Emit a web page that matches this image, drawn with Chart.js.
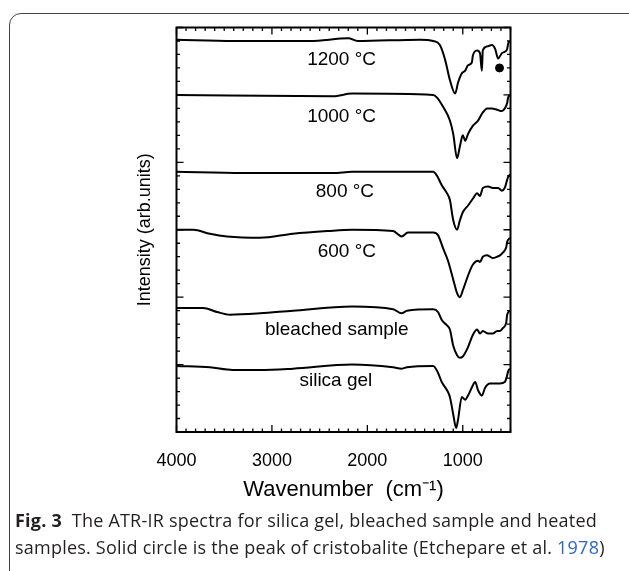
<!DOCTYPE html>
<html>
<head>
<meta charset="utf-8">
<script src="https://cdn.jsdelivr.net/npm/chart.js@4.4.1/dist/chart.umd.min.js"></script>
<style>
  html, body { margin: 0; padding: 0; background: #fff; }
  body { width: 629px; height: 571px; position: relative; overflow: hidden; }
  .frame { position: absolute; left: 9px; top: 13px; width: 700px; height: 700px; border: 1px solid #444; border-radius: 12px; }
  canvas { position: absolute; left: 0; top: 0; }
  .caption { position: absolute; left: 15px; top: 507px; font-family: "Open Sans", sans-serif; font-size: 18px; line-height: 27px; color: #231f20; white-space: nowrap; letter-spacing: 0.22px; }
  .caption b { font-weight: 700; }
  .caption span.ref { color: #2b66c9; }
</style>
</head>
<body>
<div class="frame"></div>
<canvas id="chart" width="629" height="571"></canvas>
<div class="caption"><b>Fig. 3</b>&nbsp; The ATR-IR spectra for silica gel, bleached sample and heated<br>samples. Solid circle is the peak of cristobalite (Etchepare et al. <span class="ref">1978</span>)</div>
<script>
// wavenumber (cm-1) / intensity (arb. units)
const wn1200 = [4000, 3400, 2600, 2200, 2100, 1450, 1310, 1240, 1185, 1135, 1080, 1050, 1010, 975, 945, 905, 895, 850, 820, 800, 790, 745, 695, 660, 630, 590, 560, 535, 525, 505];
const int1200 = [29.1, 29.0, 29.0, 29.2, 29.0, 29.1, 29.0, 28.7, 27.6, 26.1, 25.1, 25.9, 26.6, 26.8, 27.2, 27.4, 27.9, 28.3, 28.1, 26.8, 28.3, 28.6, 28.7, 28.4, 27.7, 28.1, 28.2, 28.4, 28.8, 29.0];

const wn1000 = [4000, 2360, 2160, 1310, 1270, 1205, 1135, 1100, 1060, 1030, 1000, 975, 945, 895, 840, 790, 745, 695, 640, 590, 560, 535, 525, 505];
const int1000 = [25.0, 24.9, 25.1, 25.0, 24.8, 24.1, 23.1, 22.1, 20.3, 21.2, 22.0, 21.6, 22.1, 22.7, 23.1, 23.7, 24.0, 24.0, 23.9, 23.8, 24.0, 24.4, 24.8, 25.0];

const wn800 = [4000, 3300, 2360, 2160, 1310, 1270, 1220, 1165, 1135, 1100, 1060, 1030, 1000, 945, 895, 850, 820, 790, 735, 685, 630, 590, 560, 535, 525, 505];
const int800 = [19.3, 19.2, 19.2, 19.3, 19.3, 19.0, 18.3, 17.7, 17.2, 15.7, 15.0, 15.7, 16.3, 16.8, 17.3, 17.7, 17.5, 18.1, 18.2, 18.1, 18.1, 17.9, 18.1, 18.7, 18.9, 19.1];

const wn600 = [4000, 3825, 3650, 3470, 3125, 2780, 2420, 2160, 1730, 1640, 1575, 1310, 1260, 1205, 1155, 1100, 1060, 1030, 1000, 945, 895, 840, 820, 790, 745, 715, 685, 640, 610, 580, 545, 535, 505];
const int600 = [15.0, 15.0, 14.7, 14.5, 14.4, 14.7, 14.9, 15.0, 14.9, 14.5, 14.8, 14.8, 14.6, 13.6, 12.7, 11.3, 10.3, 10.0, 10.5, 11.6, 12.4, 12.7, 12.6, 13.0, 13.1, 13.0, 12.9, 13.0, 13.1, 13.3, 13.7, 14.1, 14.4];

const wnBleached = [4000, 3720, 3575, 3440, 3125, 2780, 2160, 1730, 1640, 1585, 1310, 1260, 1220, 1165, 1135, 1100, 1060, 1030, 1000, 945, 895, 850, 820, 790, 735, 685, 640, 610, 580, 545, 535, 505];
const intBleached = [9.2, 9.2, 8.9, 8.7, 8.8, 9.0, 9.3, 9.1, 8.8, 9.0, 9.1, 8.9, 8.3, 7.9, 7.6, 6.4, 5.7, 5.5, 5.6, 6.3, 7.2, 7.6, 7.3, 7.5, 7.3, 7.3, 7.5, 7.5, 7.7, 8.1, 8.7, 9.0];

const wnSilica = [4000, 3650, 3410, 3125, 2780, 2160, 1730, 1640, 1585, 1310, 1260, 1220, 1165, 1135, 1100, 1070, 1050, 1010, 975, 945, 905, 870, 840, 800, 765, 715, 610, 560, 535, 525, 505];
const intSilica = [4.9, 4.8, 4.6, 4.6, 4.7, 5.0, 4.8, 4.7, 4.8, 4.9, 4.4, 3.7, 3.1, 2.6, 1.3, 0.3, 0.9, 2.6, 2.4, 2.7, 3.3, 3.7, 3.1, 2.7, 3.3, 3.6, 3.6, 3.7, 4.2, 4.5, 4.7];

// cristobalite peak marker
const cristobaliteWn = [615];
const cristobaliteInt = [27.0];

const curveNames = ['1200 °C', '1000 °C', '800 °C', '600 °C', 'bleached sample', 'silica gel'];
// where each curve name sits (wavenumber, intensity of text baseline)
const nameWn = [2270, 2270, 2235, 2215, 2320, 2330];
const nameInt = [27.2, 23.0, 17.4, 13.0, 7.2, 3.4];

const xTickValues = [4000, 3000, 2000, 1000];

const pairs = (xs, ys) => xs.map((v, i) => ({ x: v, y: ys[i] }));

const spectra = [
  [wn1200, int1200],
  [wn1000, int1000],
  [wn800, int800],
  [wn600, int600],
  [wnBleached, intBleached],
  [wnSilica, intSilica]
];

const datasets = spectra.map(([xs, ys], i) => ({
  label: curveNames[i],
  data: pairs(xs, ys),
  borderColor: '#000',
  borderWidth: 2,
  pointRadius: 0,
  fill: false,
  cubicInterpolationMode: 'monotone'
}));

datasets.push({
  label: 'cristobalite',
  type: 'scatter',
  data: pairs(cristobaliteWn, cristobaliteInt),
  backgroundColor: '#000',
  borderColor: '#000',
  pointRadius: 4
});

// inward ticks on all four sides, box frame and curve names
const frameTicks = {
  id: 'frameTicks',
  afterDatasetsDraw(chart) {
    const { ctx, chartArea: a, scales: { x, y } } = chart;
    ctx.save();
    ctx.strokeStyle = '#000';
    ctx.lineWidth = 1.3;
    ctx.beginPath();
    for (let v = 500; v <= 4000; v += 100) {
      const px = x.getPixelForValue(v);
      const len = v % 1000 === 0 ? 7 : 3.5;
      ctx.moveTo(px, a.bottom); ctx.lineTo(px, a.bottom - len);
      ctx.moveTo(px, a.top); ctx.lineTo(px, a.top + len);
    }
    for (let v = 0; v <= 30; v += 1) {
      const py = y.getPixelForValue(v);
      const len = v % 5 === 0 ? 7 : 3.5;
      ctx.moveTo(a.left, py); ctx.lineTo(a.left + len, py);
      ctx.moveTo(a.right, py); ctx.lineTo(a.right - len, py);
    }
    ctx.stroke();
    ctx.lineWidth = 2;
    ctx.strokeRect(a.left, a.top, a.right - a.left, a.bottom - a.top);

    ctx.fillStyle = '#000';
    ctx.font = '19px "Liberation Sans", Arial, sans-serif';
    ctx.textAlign = 'center';
    ctx.textBaseline = 'alphabetic';
    curveNames.forEach((t, i) => {
      ctx.fillText(t, x.getPixelForValue(nameWn[i]), y.getPixelForValue(nameInt[i]));
    });
    ctx.restore();
  }
};

Chart.defaults.font.family = '"Liberation Sans", Arial, sans-serif';
Chart.defaults.color = '#000';

new Chart(document.getElementById('chart'), {
  type: 'line',
  data: { datasets },
  options: {
    responsive: false,
    animation: false,
    devicePixelRatio: 1,
    layout: { padding: { left: 134, right: 118.5, top: 27.5, bottom: 68 } },
    plugins: { legend: { display: false }, tooltip: { enabled: false } },
    scales: {
      x: {
        type: 'linear',
        reverse: true,
        min: 500,
        max: 4000,
        afterBuildTicks: (s) => { s.ticks = xTickValues.map(v => ({ value: v })); },
        afterFit: (s) => { s.height = 71; },
        grid: { display: false },
        border: { display: false },
        ticks: { font: { size: 18 }, padding: 10, maxRotation: 0, callback: (v) => String(v) },
        title: { display: true, text: 'Wavenumber  (cm⁻¹)', font: { size: 22 }, padding: 0 }
      },
      y: {
        min: 0,
        max: 30,
        afterFit: (s) => { s.width = 42.5; },
        grid: { display: false },
        border: { display: false },
        ticks: { display: false },
        title: { display: true, text: 'Intensity (arb.units)', font: { size: 18 }, padding: 0 }
      }
    }
  },
  plugins: [frameTicks]
});
</script>
</body>
</html>
